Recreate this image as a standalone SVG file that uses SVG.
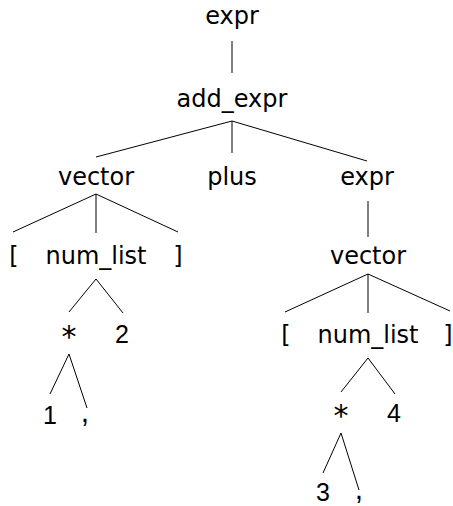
<svg xmlns="http://www.w3.org/2000/svg" width="453" height="506" viewBox="0 0 453 506">
  <style>
    .w { font-family: "DejaVu Sans", sans-serif; font-size: 24px; fill: #000; text-anchor: middle; }
    .n { font-family: "Liberation Sans", Arial, sans-serif; font-size: 25px; fill: #000; text-anchor: middle; }
    .star { font-family: "DejaVu Sans", sans-serif; font-size: 30px; fill: #000; text-anchor: middle; }
    .comma { font-family: "Liberation Sans", Arial, sans-serif; font-size: 30px; fill: #000; text-anchor: middle; }
    .edges line { stroke: #000; stroke-width: 1; }
  </style>
  <rect width="453" height="506" fill="#fff"/>

  <!-- parse tree edges -->
  <g id="edges" class="edges">
    <line x1="232" y1="41" x2="232" y2="73"/>
    <line x1="232" y1="121" x2="96" y2="157"/>
    <line x1="232" y1="121" x2="232" y2="153"/>
    <line x1="232" y1="121" x2="367" y2="161"/>
    <line x1="96" y1="194" x2="13" y2="232"/>
    <line x1="96" y1="194" x2="96" y2="233"/>
    <line x1="96" y1="194" x2="178" y2="232"/>
    <line x1="96" y1="279" x2="69" y2="312"/>
    <line x1="96" y1="279" x2="123" y2="313"/>
    <line x1="69" y1="354" x2="50" y2="394"/>
    <line x1="69" y1="354" x2="87" y2="408"/>
    <line x1="368" y1="201" x2="368" y2="237"/>
    <line x1="368" y1="274" x2="285" y2="312"/>
    <line x1="368" y1="274" x2="368" y2="313"/>
    <line x1="368" y1="274" x2="450" y2="311"/>
    <line x1="368" y1="358" x2="341" y2="392"/>
    <line x1="368" y1="358" x2="395" y2="394"/>
    <line x1="341" y1="433" x2="323" y2="473"/>
    <line x1="341" y1="433" x2="359" y2="490"/>
  </g>

  <!-- nodes -->
  <g id="n-expr"><text class="w" x="232" y="24">expr</text></g>
  <g id="n-add_expr"><text class="w" x="232" y="107">add_expr</text></g>
  <g id="n-vector1"><text class="w" x="96" y="185">vector</text></g>
  <g id="n-plus"><text class="w" x="232" y="185">plus</text></g>
  <g id="n-expr2"><text class="w" x="367" y="185">expr</text></g>
  <g id="n-lbr1"><text class="w" x="14" y="264">[</text></g>
  <g id="n-num_list1"><text class="w" x="96" y="264">num_list</text></g>
  <g id="n-rbr1"><text class="w" x="178" y="264">]</text></g>
  <g id="n-star1"><text class="star" x="69" y="347">*</text></g>
  <g id="n-2"><text class="n" x="122" y="343">2</text></g>
  <g id="n-1"><text class="n" x="50" y="424">1</text></g>
  <g id="n-comma1"><text class="comma" x="85" y="422">,</text></g>
  <g id="n-vector2"><text class="w" x="368" y="264">vector</text></g>
  <g id="n-lbr2"><text class="w" x="286" y="343">[</text></g>
  <g id="n-num_list2"><text class="w" x="368" y="343">num_list</text></g>
  <g id="n-rbr2"><text class="w" x="448" y="343">]</text></g>
  <g id="n-star2"><text class="star" x="341" y="426">*</text></g>
  <g id="n-4"><text class="n" x="394" y="422">4</text></g>
  <g id="n-3"><text class="n" x="323" y="501">3</text></g>
  <g id="n-comma2"><text class="comma" x="359" y="499">,</text></g>
</svg>
